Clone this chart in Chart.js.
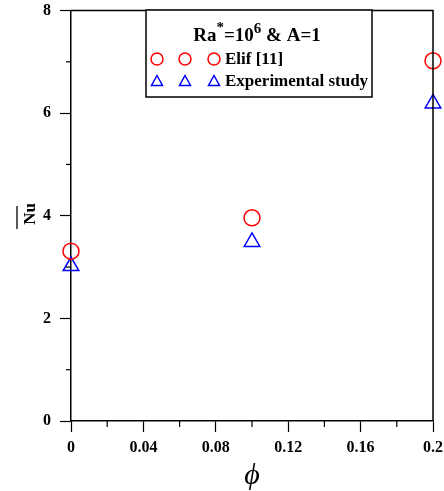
<!DOCTYPE html>
<html>
<head>
<meta charset="utf-8">
<script src="https://cdn.jsdelivr.net/npm/chart.js@4"></script>
<style>
  html, body { margin: 0; padding: 0; background: #fff; }
  #wrap { width: 444px; height: 491px; }
</style>
</head>
<body>
<div id="wrap"><canvas id="nuChart" width="444" height="491"></canvas></div>
<script>
// volume fraction phi and Nusselt numbers
var phiValues = [0, 0.1, 0.2];
var nuElif = [3.31, 3.96, 7.02];
var nuExperimental = [3.02, 3.49, 6.19];

var xTicks = [0, 0.04, 0.08, 0.12, 0.16, 0.2];
var xMinorTicks = [0.02, 0.06, 0.1, 0.14, 0.18];
var yTicks = [0, 2, 4, 6, 8];
var yMinorTicks = [1, 3, 5, 7];

var serif = "'Liberation Serif', 'Times New Roman', 'DejaVu Serif', serif";

// frame, minor ticks, y title with overline and the boxed legend
var extrasPlugin = {
  id: 'extras',
  afterDraw: function(chart) {
    var ctx = chart.ctx;
    var a = chart.chartArea;
    var xs = chart.scales.x, ys = chart.scales.y;
    ctx.save();
    ctx.strokeStyle = '#000';
    ctx.lineWidth = 1.5;
    ctx.beginPath();
    ctx.moveTo(a.left, a.top);
    ctx.lineTo(a.right, a.top);
    ctx.lineTo(a.right, a.bottom);
    ctx.stroke();

    ctx.lineWidth = 1.2;
    xMinorTicks.forEach(function(v) {
      var px = xs.getPixelForValue(v);
      ctx.beginPath();
      ctx.moveTo(px, a.bottom);
      ctx.lineTo(px, a.bottom + 6);
      ctx.stroke();
    });
    yMinorTicks.forEach(function(v) {
      var py = ys.getPixelForValue(v);
      ctx.beginPath();
      ctx.moveTo(a.left - 5, py);
      ctx.lineTo(a.left, py);
      ctx.stroke();
    });

    // y axis title: Nu with an overline
    ctx.save();
    ctx.translate(31, 214);
    ctx.rotate(-Math.PI / 2);
    ctx.fillStyle = '#000';
    ctx.font = 'bold 17px ' + serif;
    ctx.textAlign = 'center';
    ctx.textBaseline = 'middle';
    ctx.fillText('Nu', 0, 0);
    ctx.restore();
    ctx.lineWidth = 1.3;
    ctx.beginPath();
    ctx.moveTo(17, 206);
    ctx.lineTo(17, 229);
    ctx.stroke();

    // legend box
    var bx = 146, by = 10, bw = 226, bh = 87;
    ctx.fillStyle = '#fff';
    ctx.fillRect(bx, by, bw, bh);
    ctx.lineWidth = 1.5;
    ctx.strokeRect(bx, by, bw, bh);

    ctx.fillStyle = '#000';
    ctx.textBaseline = 'alphabetic';
    var big = 'bold 19px ' + serif, sup = 'bold 15px ' + serif;
    var parts = [['Ra', big, 0], ['*', sup, -9], ['=10', big, 0], ['6', sup, -8], [' & A=1', big, 0]];
    var total = 0;
    parts.forEach(function(p) { ctx.font = p[1]; total += ctx.measureText(p[0]).width; });
    var tx = 257 - total / 2;
    parts.forEach(function(p) {
      ctx.font = p[1];
      ctx.fillText(p[0], tx, 41 + p[2]);
      tx += ctx.measureText(p[0]).width;
    });

    var rows = [
      { label: 'Elif [11]', color: '#ff0000', shape: 'circle', y: 59 },
      { label: 'Experimental study', color: '#0000ff', shape: 'triangle', y: 81 }
    ];
    ctx.font = 'bold 17px ' + serif;
    ctx.textBaseline = 'middle';
    rows.forEach(function(r) {
      [157, 185, 214].forEach(function(mx) {
        ctx.strokeStyle = r.color;
        ctx.lineWidth = 1.5;
        ctx.beginPath();
        if (r.shape === 'circle') {
          ctx.arc(mx, r.y, 6, 0, Math.PI * 2);
        } else {
          ctx.moveTo(mx, r.y - 5.5);
          ctx.lineTo(mx + 5.5, r.y + 4.5);
          ctx.lineTo(mx - 5.5, r.y + 4.5);
          ctx.closePath();
        }
        ctx.stroke();
      });
      ctx.fillStyle = '#000';
      ctx.fillText(r.label, 225, r.y + 1);
    });
    ctx.restore();
  }
};

function noPadding(scale) {
  scale.paddingLeft = 0;
  scale.paddingRight = 0;
  scale.paddingTop = 0;
  scale.paddingBottom = 0;
}

var ctx = document.getElementById('nuChart').getContext('2d');
var nuChart = new Chart(ctx, {
  type: 'scatter',
  data: {
    datasets: [{
      label: 'Elif [11]',
      data: phiValues.map(function(p, i) { return { x: p, y: nuElif[i] }; }),
      pointStyle: 'circle',
      pointRadius: 8,
      pointBorderWidth: 1.5,
      borderColor: '#ff0000',
      backgroundColor: 'rgba(0,0,0,0)',
      showLine: false
    }, {
      label: 'Experimental study',
      data: phiValues.map(function(p, i) { return { x: p, y: nuExperimental[i] }; }),
      pointStyle: 'triangle',
      pointRadius: 9,
      pointBorderWidth: 1.5,
      borderColor: '#0000ff',
      backgroundColor: 'rgba(0,0,0,0)',
      showLine: false
    }]
  },
  options: {
    responsive: false,
    animation: false,
    clip: false,
    layout: { padding: { top: 10, right: 11, left: 0, bottom: 0 } },
    plugins: { legend: { display: false }, tooltip: { enabled: false } },
    scales: {
      x: {
        type: 'linear',
        min: 0,
        max: 0.2,
        afterBuildTicks: function(scale) {
          scale.ticks = xTicks.map(function(v) { return { value: v }; });
        },
        afterFit: function(scale) { scale.height = 70; noPadding(scale); },
        ticks: {
          padding: 6,
          color: '#000',
          maxRotation: 0,
          font: { family: serif, size: 16, weight: 'bold' },
          callback: function(v) { return String(v); }
        },
        grid: { drawOnChartArea: false, tickLength: 11, color: '#000', tickWidth: 1.2 },
        border: { color: '#000', width: 1.5 },
        title: {
          display: true,
          text: '\u03D5',
          color: '#000',
          padding: { top: 0, bottom: 0 },
          font: { family: serif, size: 30, style: 'italic', lineHeight: 1 }
        }
      },
      y: {
        type: 'linear',
        min: 0,
        max: 8,
        afterBuildTicks: function(scale) {
          scale.ticks = yTicks.map(function(v) { return { value: v }; });
        },
        afterFit: function(scale) { scale.width = 71; noPadding(scale); },
        ticks: {
          padding: 9,
          color: '#000',
          font: { family: serif, size: 16, weight: 'bold' }
        },
        grid: { drawOnChartArea: false, tickLength: 11, color: '#000', tickWidth: 1.2 },
        border: { color: '#000', width: 1.5 }
      }
    }
  },
  plugins: [extrasPlugin]
});
</script>
</body>
</html>
